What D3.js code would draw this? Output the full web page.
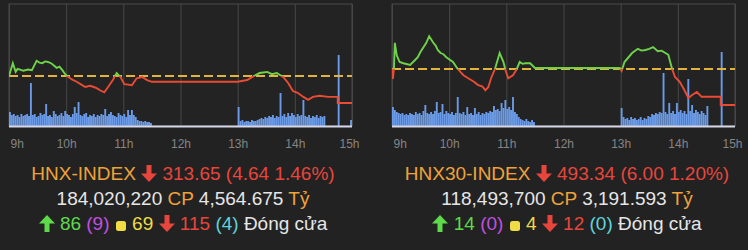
<!DOCTYPE html>
<html>
<head>
<meta charset="utf-8">
<script src="https://cdn.jsdelivr.net/npm/d3@7"></script>
<style>
  body { margin: 0; background: #222; width: 748px; height: 250px; overflow: hidden; position: relative; font-family: "Liberation Sans", Arial, sans-serif; }
  svg { position: absolute; left: 0; top: 0; }
  .tick text { fill: #858585; font-size: 12px; font-family: "Liberation Sans", Arial, sans-serif; }
  .tick line { stroke: #464646; }
  .domain { display: none; }
  .stats { position: absolute; width: 380px; text-align: center; font-size: 19px; line-height: 25px; white-space: nowrap; }
  .stats svg { position: static; display: inline-block; vertical-align: -2px; }
</style>
</head>
<body>
<script>
const hours = ['9h', '10h', '11h', '12h', '13h', '14h', '15h'];

// HNX-INDEX
const hnxRef = 318.29;
const hnxLine = [
  ['09:00', 318.29], ['09:04', 320.5], ['09:07', 319.0], ['09:09', 319.5], ['09:15', 319.2], ['09:20', 319.4],
  ['09:24', 319.3], ['09:29', 320.9], ['09:32', 320.6], ['09:35', 320.5], ['09:38', 320.8], ['09:41', 320.7],
  ['09:45', 320.4], ['09:50', 319.7], ['09:53', 319.9], ['09:56', 319.3], ['09:59', 318.6], ['10:01', 318.29],
  ['10:06', 317.7], ['10:11', 317.3], ['10:16', 316.8], ['10:20', 316.4], ['10:25', 316.6], ['10:29', 316.4],
  ['10:32', 316.2], ['10:36', 315.8], ['10:40', 315.5], ['10:44', 316.4], ['10:49', 317.6], ['10:53', 318.8],
  ['10:57', 318.1], ['11:01', 316.9], ['11:05', 316.8], ['11:09', 316.7], ['11:14', 317.9], ['11:20', 318.1],
  ['11:25', 317.6], ['11:30', 317.3], ['13:00', 317.3], ['13:10', 317.6], ['13:15', 318.1], ['13:23', 318.8],
  ['13:27', 318.9], ['13:31', 319.0], ['13:36', 318.6], ['13:41', 318.8], ['13:48', 318.1], ['13:53', 317.1],
  ['13:58', 315.7], ['14:03', 315.4], ['14:09', 314.7], ['14:14', 314.2], ['14:19', 314.7], ['14:26', 314.9],
  ['14:35', 314.7], ['14:45', 314.7], ['14:45', 313.65], ['15:00', 313.65]
];
const hnxVolAM = [14, 11, 12, 10, 11, 9, 12, 10, 11, 12, 10, 43, 11, 12, 9, 10, 13, 11, 12, 22, 10, 11, 9, 15, 12,
  10, 11, 13, 10, 15, 12, 11, 9, 12, 19, 13, 24, 11, 10, 12, 13, 9, 11, 10, 12, 9, 11, 10, 12, 11, 17, 10, 12, 14,
  11, 10, 9, 13, 11, 10, 12, 9, 16, 11, 16, 11, 9, 6, 5, 5, 4, 5, 4, 4, 3];
const hnxVolPM = [19, 5, 6, 4, 5, 5, 4, 6, 5, 5, 6, 7, 8, 7, 9, 8, 10, 9, 11, 8, 10, 9, 33, 10, 12, 9, 13, 10, 13,
  11, 9, 12, 10, 11, 26, 10, 9, 11, 8, 10, 9, 11, 8, 10, 9, 10];
const hnxVolATC = [['14:45', 71], ['14:58', 6]];

// HNX30-INDEX
const hnx30Ref = 499.34;
const hnx30Line = [
  ['09:00', 499.34], ['09:01', 497.7], ['09:02', 499.4], ['09:03', 503.7], ['09:05', 501.6], ['09:08', 500.5],
  ['09:12', 500.3], ['09:19', 500.0], ['09:24', 500.8], ['09:27', 501.3], ['09:30', 502.2], ['09:36', 503.7],
  ['09:39', 504.8], ['09:43', 503.8], ['09:46', 503.2], ['09:48', 502.5], ['09:51', 502.0], ['09:54', 501.8],
  ['09:57', 501.3], ['10:04', 500.5], ['10:09', 499.34], ['10:15', 498.3], ['10:20', 497.8], ['10:26', 497.2],
  ['10:30', 496.7], ['10:35', 496.4], ['10:38', 495.8], ['10:41', 496.3], ['10:44', 497.8], ['10:48', 499.3],
  ['10:53', 502.0], ['10:57', 500.5], ['10:59', 499.2], ['11:02', 497.8], ['11:07', 498.3], ['11:11', 499.34],
  ['11:14', 500.5], ['11:17', 500.2], ['11:20', 500.3], ['11:25', 500.3], ['11:30', 499.5], ['12:59', 499.5],
  ['13:01', 499.0], ['13:04', 500.5], ['13:12', 502.0], ['13:18', 502.7], ['13:22', 502.4], ['13:26', 502.5],
  ['13:30', 502.7], ['13:34', 503.0], ['13:39', 502.3], ['13:43', 502.4], ['13:47', 502.0], ['13:50', 501.7],
  ['13:54', 499.34], ['13:57', 498.0], ['14:02', 497.2], ['14:07', 495.8], ['14:11', 494.5], ['14:15', 495.0],
  ['14:20', 495.5], ['14:25', 494.7], ['14:31', 494.7], ['14:45', 494.7], ['14:45', 493.34], ['15:00', 493.34]
];
const hnx30VolAM = [19, 16, 14, 13, 12, 13, 11, 12, 11, 13, 12, 11, 14, 12, 13, 11, 15, 21, 13, 12, 14, 12, 15, 24,
  13, 14, 22, 12, 15, 13, 12, 14, 11, 13, 29, 13, 12, 14, 11, 19, 12, 13, 11, 18, 12, 14, 11, 13, 12, 14, 13, 15,
  14, 20, 16, 17, 15, 23, 18, 26, 17, 19, 16, 29, 14, 12, 9, 7, 6, 5, 7, 5, 4, 6, 4];
const hnx30VolPM = [18, 9, 7, 8, 6, 9, 7, 8, 6, 7, 9, 6, 8, 7, 10, 9, 12, 11, 13, 12, 14, 13, 53, 14, 12, 23, 13,
  15, 12, 23, 14, 16, 13, 15, 12, 47, 15, 21, 13, 16, 14, 12, 15, 13, 11, 20];
const hnx30VolATC = [['14:45', 74]];

const parse = d3.timeParse('%H:%M');
const plotTop = 4, base = 126;

const svg = d3.select('body').append('svg').attr('width', 748).attr('height', 250);

const drawPanel = (id, x0, x1, ref, yDomain, line, volAM, volPM, volATC) => {
  const x = d3.scaleTime().domain([parse('09:00'), parse('15:00')]).range([x0, x1]);
  const y = d3.scaleLinear().domain(yDomain).range([127, plotTop]);
  const v = d3.scaleLinear().domain([0, 100]).range([base, base - 100]);
  const g = svg.append('g');

  g.append('rect')
    .attr('x', x0).attr('y', plotTop)
    .attr('width', x1 - x0).attr('height', base - plotTop)
    .attr('fill', '#232323').attr('stroke', '#4a4a4a');

  const axis = g.append('g')
    .attr('transform', `translate(0,${base})`)
    .call(d3.axisBottom(x)
      .ticks(d3.timeHour.every(1))
      .tickSize(-(base - plotTop))
      .tickPadding(13)
      .tickFormat((d, i) => hours[i]));
  axis.selectAll('.tick text')
    .attr('text-anchor', (d, i) => i === 0 ? 'start' : 'middle')
    .attr('dx', (d, i) => i === 0 ? 1 : (i === 6 ? -3 : 0));

  const bars = [];
  volAM.forEach((d, i) => bars.push({ t: d3.timeMinute.offset(parse('09:00'), i * 2), vol: d }));
  volPM.forEach((d, i) => bars.push({ t: d3.timeMinute.offset(parse('13:00'), i * 2), vol: d }));
  volATC.forEach(d => bars.push({ t: parse(d[0]), vol: d[1] }));

  g.selectAll('.bar')
    .data(bars)
    .enter()
    .append('rect')
    .attr('class', 'bar')
    .attr('x', d => x(d.t))
    .attr('y', d => v(d.vol))
    .attr('width', 1.9)
    .attr('height', d => base - v(d.vol))
    .attr('fill', '#6b9be6');

  g.append('line')
    .attr('x1', x0).attr('x2', x1)
    .attr('y1', base + 0.5).attr('y2', base + 0.5)
    .attr('stroke', '#d6d6e6').attr('stroke-width', 2);

  g.append('line')
    .attr('x1', x0).attr('x2', x1)
    .attr('y1', y(ref)).attr('y2', y(ref))
    .attr('stroke', '#e3b43c').attr('stroke-width', 2)
    .attr('stroke-dasharray', '9,4');

  const defs = svg.append('defs');
  defs.append('clipPath').attr('id', id + '-up')
    .append('rect').attr('x', x0).attr('y', 0).attr('width', x1 - x0).attr('height', y(ref));
  defs.append('clipPath').attr('id', id + '-down')
    .append('rect').attr('x', x0).attr('y', y(ref)).attr('width', x1 - x0).attr('height', 250);

  const path = d3.line()
    .x(d => x(parse(d[0])))
    .y(d => y(d[1]));

  g.append('path')
    .datum(line)
    .attr('d', path)
    .attr('fill', 'none')
    .attr('stroke', '#6fd34a').attr('stroke-width', 1.9)
    .attr('clip-path', `url(#${id}-up)`);
  g.append('path')
    .datum(line)
    .attr('d', path)
    .attr('fill', 'none')
    .attr('stroke', '#ea4b35').attr('stroke-width', 1.9)
    .attr('clip-path', `url(#${id}-down)`);
};

drawPanel('hnx', 9, 352, hnxRef, [309.53, 330.66], hnxLine, hnxVolAM, hnxVolPM, hnxVolATC);
drawPanel('hnx30', 392, 735, hnx30Ref, [489.67, 510.17], hnx30Line, hnx30VolAM, hnx30VolPM, hnx30VolATC);

// summary text below each chart
const arrowDown = c => `<svg width="16" height="17" viewBox="0 0 16 17"><path d="M5.5 0h5v8.5H16l-8 8.5-8-8.5h5.5z" fill="${c}"/></svg>`;
const arrowUp = c => `<svg width="16" height="17" viewBox="0 0 16 17"><path d="M5.5 17h5V8.5H16L8 0 0 8.5h5.5z" fill="${c}"/></svg>`;
const square = c => `<svg width="12" height="12" viewBox="0 0 12 12"><rect x="1" y="1" width="10" height="10" rx="2.5" fill="${c}"/></svg>`;

const orange = '#f0a23a', red = '#e8463c', white = '#e6e6e6', green = '#5ed94c',
  purple = '#c24fe0', yellow = '#f0dc44', cyan = '#5fd3dc';

const summaries = [
  { cx: 183, name: 'HNX-INDEX', value: '313.65 (4.64 1.46%)', vol: '184,020,220', val: '4,564.675',
    up: '86', upCeil: '(9)', same: '69', down: '115', downFloor: '(4)' },
  { cx: 567, name: 'HNX30-INDEX', value: '493.34 (6.00 1.20%)', vol: '118,493,700', val: '3,191.593',
    up: '14', upCeil: '(0)', same: '4', down: '12', downFloor: '(0)' }
];

summaries.forEach(s => {
  const box = d3.select('body').append('div')
    .attr('class', 'stats')
    .style('left', (s.cx - 190) + 'px')
    .style('top', '161px');
  box.append('div').html(
    `<span style="color:${orange}">${s.name}</span> ${arrowDown(red)} <span style="color:${red}">${s.value}</span>`);
  box.append('div').html(
    `<span style="color:${white}">${s.vol}</span> <span style="color:${orange}">CP</span> ` +
    `<span style="color:${white}">${s.val}</span> <span style="color:${orange}">Tỷ</span>`);
  box.append('div').html(
    `${arrowUp(green)} <span style="color:${green}">${s.up}</span> <span style="color:${purple}">${s.upCeil}</span> ` +
    `${square(yellow)} <span style="color:${yellow}">${s.same}</span> ${arrowDown(red)} ` +
    `<span style="color:${red}">${s.down}</span> <span style="color:${cyan}">${s.downFloor}</span> ` +
    `<span style="color:${white}">Đóng cửa</span>`);
});
</script>
</body>
</html>
